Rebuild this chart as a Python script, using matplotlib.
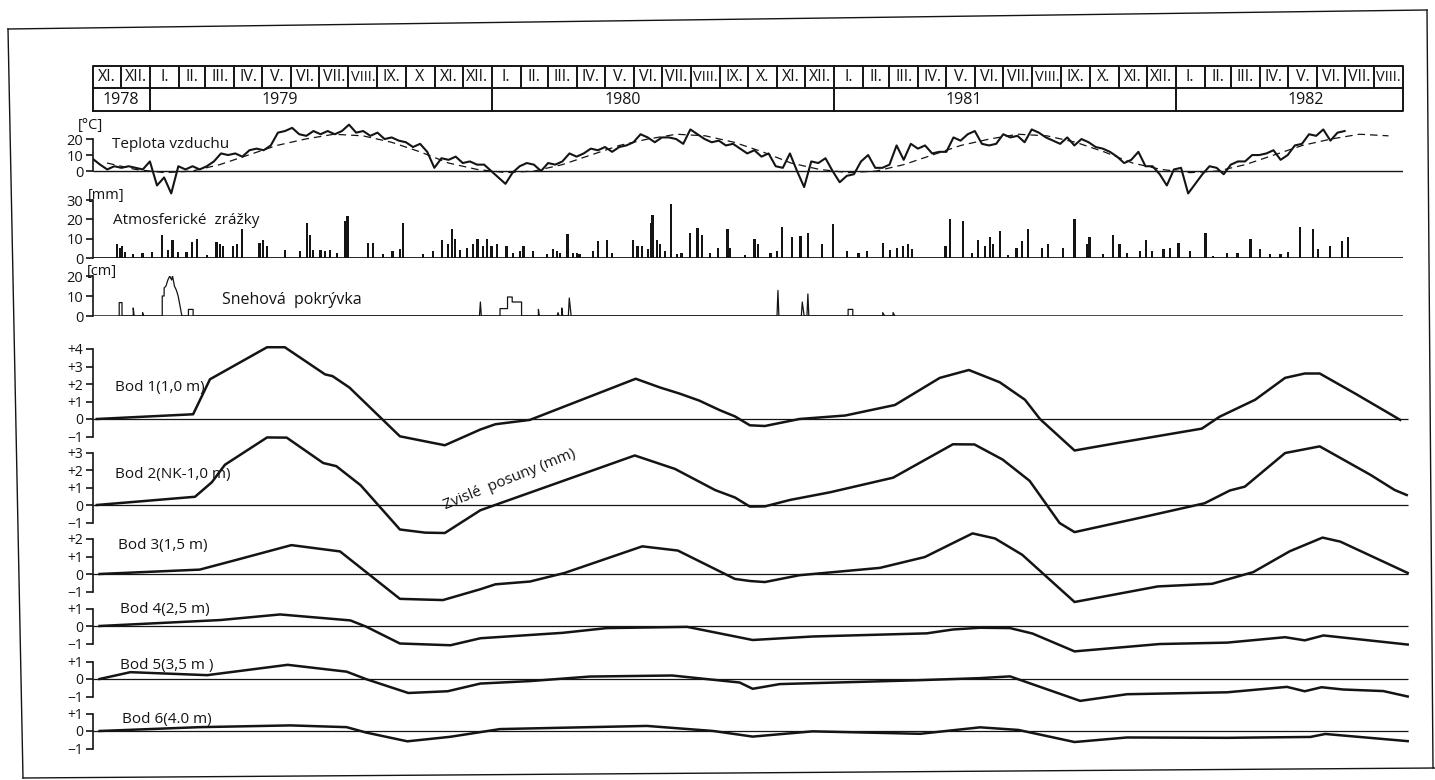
import numpy as np
import pandas as pd
import matplotlib
matplotlib.use("Agg")
import matplotlib.pyplot as plt
from matplotlib.lines import Line2D

# ---- data (x in days from 1 Nov 1978) ----
month_labels = ["XI.", "XII.",
                "I.", "II.", "III.", "IV.", "V.", "VI.", "VII.", "VIII.", "IX.", "X", "XI.", "XII.",
                "I.", "II.", "III.", "IV.", "V.", "VI.", "VII.", "VIII.", "IX.", "X.", "XI.", "XII.",
                "I.", "II.", "III.", "IV.", "V.", "VI.", "VII.", "VIII.", "IX.", "X.", "XI.", "XII.",
                "I.", "II.", "III.", "IV.", "V.", "VI.", "VII.", "VIII."]
years = ["1978", "1979", "1980", "1981", "1982"]
year_label_dates = ["1978-12-01", "1979-05-20", "1980-05-20", "1981-05-20", "1982-05-20"]

# air temperature, one reading per ~quarter month
temp_step = 7.6
temp = [7.5, 4, 1, 3, 2, 3, 2, 1, 6, -9, -4, -14, 3, 1, 3, 1, 3, 6, 11, 10, 11, 9, 13, 14, 13,
        16, 24, 25, 27, 23, 22, 25, 23, 25, 23, 25, 29, 24, 25, 22, 24, 20, 21, 19, 18, 15, 17,
        12, 2, 8, 7, 9, 5, 6, 4, 4, 0, -4, -8, -1, 3, 5, 4, 0, 5, 4, 6, 11, 9, 11, 14, 13, 15,
        12, 15, 16, 18, 23, 21, 18, 21, 21, 20, 17, 26, 23, 20, 18, 19, 16, 17, 14, 11, 13, 9,
        11, 3, 2, 11, 0, -10, 6, 5, 8, 0, -7, -3, -2, 6, 10, 2, 2, 4, 16, 7, 17, 14, 16, 11, 12,
        12, 21, 19, 23, 25, 17, 16, 17, 23, 21, 22, 18, 26, 24, 21, 19, 17, 21, 16, 20, 18, 15,
        14, 12, 9, 5, 7, 12, 3, 3, -2, -9, 1, 2, -14, -8, -2, 3, 2, -2, 4, 6, 6, 10, 10, 11, 13,
        7, 10, 16, 17, 23, 22, 26, 19, 24, 25]
# long-term monthly mean (dashed)
temp_norm = [5, 1,
             -1, 0, 4, 10, 16, 20, 23, 22, 18, 12, 5, 1,
             -1, 0, 4, 10, 16, 20, 23, 22, 18, 12, 5, 1,
             -1, 0, 4, 10, 16, 20, 23, 22, 18, 12, 5, 1,
             -1, 0, 4, 10, 16, 20, 23, 22]

precip_day = [26, 29, 31, 34, 43, 53, 63, 74, 80, 85, 91, 100, 106, 111, 122, 132, 136, 139, 150,
              154, 159, 178, 182, 186, 205, 221, 229, 232, 235, 243, 248, 253, 261, 269, 272, 294,
              299, 310, 320, 328, 331, 353, 363, 373, 379, 384, 387, 392, 400, 406, 411, 417, 421,
              426, 432, 442, 449, 456, 460, 470, 485, 492, 496, 499, 507, 513, 517, 520, 534, 540,
              549, 555, 577, 582, 587, 593, 597, 598, 603, 606, 611, 618, 624, 629, 638, 646, 651,
              659, 668, 678, 681, 697, 707, 711, 724, 731, 736, 747, 756, 764, 779, 791, 806, 818,
              827, 844, 852, 859, 866, 871, 875, 911, 916, 930, 939, 946, 953, 959, 962, 969, 978,
              987, 993, 999, 1014, 1021, 1037, 1049, 1062, 1065, 1079, 1090, 1097, 1105, 1119,
              1125, 1132, 1144, 1151, 1160, 1172, 1189, 1197, 1212, 1223, 1237, 1247, 1258, 1269,
              1277, 1290, 1304, 1309, 1322, 1335, 1341]
precip_mm = [7, 5, 6, 3, 2, 2.5, 3, 12, 4, 9.5, 3, 3, 8.5, 10, 1.5, 8.5, 7, 6, 6,
             7.5, 15, 8, 9.5, 6, 4, 3.5, 18, 12, 4, 4, 3.5, 4, 2.5, 19, 21.6, 8,
             8, 2, 3.5, 4.5, 18, 2, 3.5, 9.5, 7, 15, 10, 4, 5, 7.5, 10, 6, 10,
             6, 7, 6.4, 2.5, 3.5, 6, 3.5, 2, 4.5, 3.5, 2.5, 12.6, 2.5, 2.5, 2, 3.5, 9,
             9.5, 2.5, 9.5, 6, 6, 4.5, 18, 22, 9.5, 7.5, 3.5, 28, 2, 2.5, 13, 15.5, 12,
             2.5, 5, 15, 5, 1.5, 10, 7, 2.5, 3.5, 16, 11, 11.5, 13, 7, 17.8, 3.5, 2.5,
             3.5, 8, 4, 5, 6, 7, 4.5, 6, 20, 19, 2.5, 9.5, 6, 11, 7, 14, 1.5,
             5, 8.6, 15, 5, 7, 5, 20, 7.5, 11, 2, 12, 7.5, 2.5, 3.5,
             9.5, 3.5, 4.5, 5, 8, 3.5, 13, 1, 2.5, 2.5, 10, 4.5, 2, 2,
             3, 16, 15, 4.5, 6, 9, 11]

snow_day = [28, 28, 31, 31, 43, 43, 44, 53, 53, 54,
            74, 74, 76, 76, 78, 80, 82, 84, 85, 87, 89, 91, 93, 95,
            102, 102, 107, 107, 413, 414, 415,
            435, 435, 443, 443, 448, 448, 458, 458, 476, 476, 477,
            496, 497, 498, 501, 501, 502, 508, 509, 511,
            731, 732, 733, 757, 758, 760, 763, 764, 765,
            807, 807, 812, 812, 844, 844, 846, 855, 855, 857]
snow_cm = [0, 6.7, 6.7, 0, 0, 4, 0, 0, 1.7, 0,
           0, 10, 10, 14, 15, 18, 20, 18, 20, 15, 13, 10, 5, 0,
           0, 3.3, 3.3, 0, 0, 7, 0,
           0, 3.7, 3.7, 9.5, 9.5, 7, 7, 0, 0, 3.3, 0,
           0, 1.7, 0, 0, 4, 0, 0, 9, 0,
           0, 12.8, 0, 0, 7, 0, 0, 11, 0,
           0, 3.3, 3.3, 0, 0, 1.7, 0, 0, 1.7, 0]

# vertical displacements (mm)
bod_names = ["Bod 1(1,0 m)", "Bod 2(NK-1,0 m)", "Bod 3(1,5 m)",
             "Bod 4(2,5 m)", "Bod 5(3,5 m )", "Bod 6(4.0 m)"]
bod_days = [
    [4, 107, 125, 186, 205, 248, 256, 274, 328, 376, 414, 430, 467, 580, 606, 627, 648, 670,
     686, 702, 718, 755, 804, 857, 905, 936, 969, 996, 1012, 1049, 1097, 1185, 1204, 1242,
     1274, 1295, 1311, 1349, 1397],
    [4, 109, 127, 141, 186, 207, 246, 260, 286, 328, 355, 376, 414, 435, 579, 622, 665, 686,
     702, 718, 745, 788, 855, 919, 942, 972, 1001, 1033, 1049, 1119, 1188, 1215, 1231, 1274,
     1311, 1365, 1391, 1404],
    [7, 114, 157, 212, 264, 328, 374, 414, 430, 467, 504, 587, 625, 686, 702, 718, 755, 841,
     889, 921, 940, 964, 993, 1049, 1138, 1196, 1240, 1279, 1314, 1333, 1405],
    [7, 136, 200, 275, 292, 328, 382, 414, 502, 549, 635, 705, 769, 891, 919, 948, 980, 1004,
     1049, 1140, 1212, 1274, 1295, 1315, 1405],
    [7, 40, 122, 208, 271, 292, 337, 379, 414, 467, 531, 619, 691, 705, 734, 876, 948, 980,
     1055, 1105, 1212, 1276, 1295, 1313, 1336, 1379, 1405],
    [7, 114, 211, 271, 292, 336, 382, 435, 592, 663, 705, 769, 884, 948, 989, 1049, 1105,
     1212, 1301, 1317, 1405],
]
bod_mm = [
    [0, 0.27, 2.27, 4.1, 4.1, 2.55, 2.45, 1.8, -0.99, -1.5, -0.6, -0.3, -0.05, 2.3, 1.8, 1.45,
     1.05, 0.5, 0.15, -0.36, -0.4, 0, 0.2, 0.8, 2.35, 2.8, 2.1, 1.1, 0, -1.8, -1.35, -0.55,
     0.13, 1.1, 2.35, 2.6, 2.6, 1.45, -0.05],
    [0, 0.47, 1.3, 2.3, 3.86, 3.85, 2.4, 2.22, 1.13, -1.4, -1.58, -1.6, -0.3, 0.1, 2.83, 2.06,
     0.85, 0.43, -0.09, -0.08, 0.29, 0.73, 1.56, 3.47, 3.46, 2.6, 1.38, -1.03, -1.55, -0.73,
     0.1, 0.83, 1.05, 2.97, 3.35, 1.73, 0.86, 0.57],
    [0, 0.25, 0.86, 1.65, 1.29, -1.42, -1.49, -0.87, -0.59, -0.43, 0.06, 1.58, 1.34, -0.28,
     -0.4, -0.46, -0.07, 0.35, 0.97, 1.82, 2.32, 2.03, 1.1, -1.6, -0.71, -0.56, 0.11, 1.3,
     2.08, 1.85, 0.06],
    [0, 0.34, 0.66, 0.32, -0.04, -1.0, -1.1, -0.7, -0.39, -0.12, -0.05, -0.8, -0.6, -0.42,
     -0.2, -0.1, -0.12, -0.43, -1.45, -1.03, -0.95, -0.64, -0.82, -0.54, -1.06],
    [0, 0.39, 0.22, 0.81, 0.42, -0.01, -0.8, -0.7, -0.26, -0.12, 0.14, 0.2, -0.2, -0.56,
     -0.29, -0.08, 0.05, 0.15, -1.25, -0.87, -0.76, -0.45, -0.7, -0.47, -0.6, -0.69, -1.0],
    [0, 0.22, 0.32, 0.22, -0.09, -0.59, -0.33, 0.11, 0.29, 0, -0.32, -0.02, -0.16, 0.21,
     0.06, -0.63, -0.37, -0.39, -0.34, -0.17, -0.58],
]
bod_ticks = [[-1, 0, 1, 2, 3, 4], [-1, 0, 1, 2, 3], [-1, 0, 1, 2],
             [-1, 0, 1], [-1, 0, 1], [-1, 0, 1]]

# ---- layout helpers (pixels of the 1435x780 canvas) ----
W, H = 1435, 780
X0, X1 = 93, 1403
INK = "#141414"
plt.rcParams["font.family"] = ["Open Sans", "DejaVu Sans"]


def rect(left, top, right, bottom):
    return [left / W, 1 - bottom / H, (right - left) / W, (bottom - top) / H]


def fpt(x, y):
    return x / W, 1 - y / H


months = pd.date_range("1978-11-01", "1982-09-01", freq="MS")
mstart = (months - months[0]).days.values
DAYS = mstart[-1]
mid = (mstart[:-1] + mstart[1:]) / 2

fig = plt.figure(figsize=(W / 100, H / 100), dpi=100)
fig.patch.set_facecolor("white")


def panel(top, bottom, ylim, ticks, labels, lsize=10.5):
    ax = fig.add_axes(rect(X0, top, X1, bottom))
    ax.set_xlim(0, DAYS)
    ax.set_ylim(*ylim)
    ax.patch.set_alpha(0)
    for s in ["top", "right", "bottom"]:
        ax.spines[s].set_visible(False)
    ax.spines["left"].set_bounds(ticks[0], ticks[-1])
    ax.spines["left"].set_linewidth(1.2)
    ax.spines["left"].set_color(INK)
    ax.set_xticks([])
    ax.set_yticks(ticks)
    ax.set_yticklabels(labels)
    ax.tick_params(axis="y", length=5, width=1.2, pad=2, labelsize=lsize, colors=INK)
    return ax


# ---- header table ----
hax = fig.add_axes(rect(X0, 66, X1, 111))
hax.set_xlim(0, DAYS)
hax.set_ylim(0, 2)
hax.axis("off")
kw = dict(color=INK, lw=1.4, clip_on=False)
hax.plot([0, DAYS, DAYS, 0, 0], [0, 0, 2, 2, 0], **kw)
hax.plot([0, DAYS], [1, 1], **kw)
for i, b in enumerate(mstart[1:-1], start=1):
    if months[i].month == 1:
        hax.plot([b, b], [0, 2], **kw)
    else:
        hax.plot([b, b], [1, 2], **kw)
for i, lab in enumerate(month_labels):
    hax.text(mid[i], 1.5, lab, ha="center", va="center",
             fontsize=10.5 if lab == "VIII." else 11.5, color=INK)
for yr, d in zip(years, year_label_dates):
    x = (pd.Timestamp(d) - months[0]).days
    hax.text(x, 0.5, yr, ha="center", va="center", fontsize=11.5, color=INK)

# ---- air temperature ----
tax = panel(120, 200, (-18.1, 31.9), [0, 10, 20], ["0", "10", "20"])
tday = np.arange(len(temp)) * temp_step
tax.hlines(0, 0, DAYS, color=INK, lw=1.0)
tax.plot(mid, temp_norm, color=INK, lw=0.9, ls=(0, (6, 4)))
tax.plot(tday, temp, color=INK, lw=1.5)

# ---- precipitation ----
pax = panel(200, 258, (0, 30), [0, 10, 20, 30], ["0", "10", "20", "30"])
pax.hlines(0, 0, DAYS, color=INK, lw=1.3)
pax.bar(precip_day, precip_mm, width=2.4, color=INK, linewidth=0)

# ---- snow cover ----
sax = panel(276, 316, (0, 20), [0, 10, 20], ["0", "10", "20"])
sax.hlines(0, 0, DAYS, color=INK, lw=1.8)
sax.plot(snow_day, snow_cm, color=INK, lw=0.9)

# ---- displacement points ----
zeros = [419, 505, 574, 626, 679, 731]
S = 17.5
for name, z, d, v, tk in zip(bod_names, zeros, bod_days, bod_mm, bod_ticks):
    ax = panel(z - 4.5 * S, z + 2.5 * S, (-2.5, 4.5), tk,
               [("+%d" % t if t > 0 else ("\u22121" if t < 0 else "0")) for t in tk], 10)
    ax.hlines(0, 0, 1405, color=INK, lw=0.9, clip_on=False)
    ax.plot(d, v, color=INK, lw=1.8, clip_on=False)

# ---- labels ----
def label(x, y, s, size, **k):
    fig.text(*fpt(x, y), s, fontsize=size, color=INK, va="center", **k)

label(78, 126, "[°C]", 10.5)
label(88, 196, "[mm]", 10.5)
label(87, 271, "[cm]", 10.5)
label(112, 145, "Teplota vzduchu", 11)
label(113, 220, "Atmosferické  zrážky", 11)
label(222, 300, "Snehová  pokrývka", 11.5)
bod_label_y = [388, 475, 545, 610, 665, 720]
bod_label_x = [115, 115, 118, 120, 120, 122]
for name, x, y in zip(bod_names, bod_label_x, bod_label_y):
    label(x, y, name, 11)
fig.text(*fpt(510, 480), "Zvislé  posuny (mm)", fontsize=11, color=INK,
         rotation=22, ha="center", va="center", rotation_mode="anchor")

# ---- outer frame of the sheet ----
for (xa, ya), (xb, yb) in [((8, 29), (1427, 10)), ((8, 29), (23, 778)),
                           ((23, 778), (1435, 768)), ((1427, 10), (1433, 768))]:
    (fa, ga), (fb, gb) = fpt(xa, ya), fpt(xb, yb)
    fig.add_artist(Line2D([fa, fb], [ga, gb], transform=fig.transFigure, color=INK, lw=1.0))

fig.savefig("out.png", dpi=100, facecolor="white")
